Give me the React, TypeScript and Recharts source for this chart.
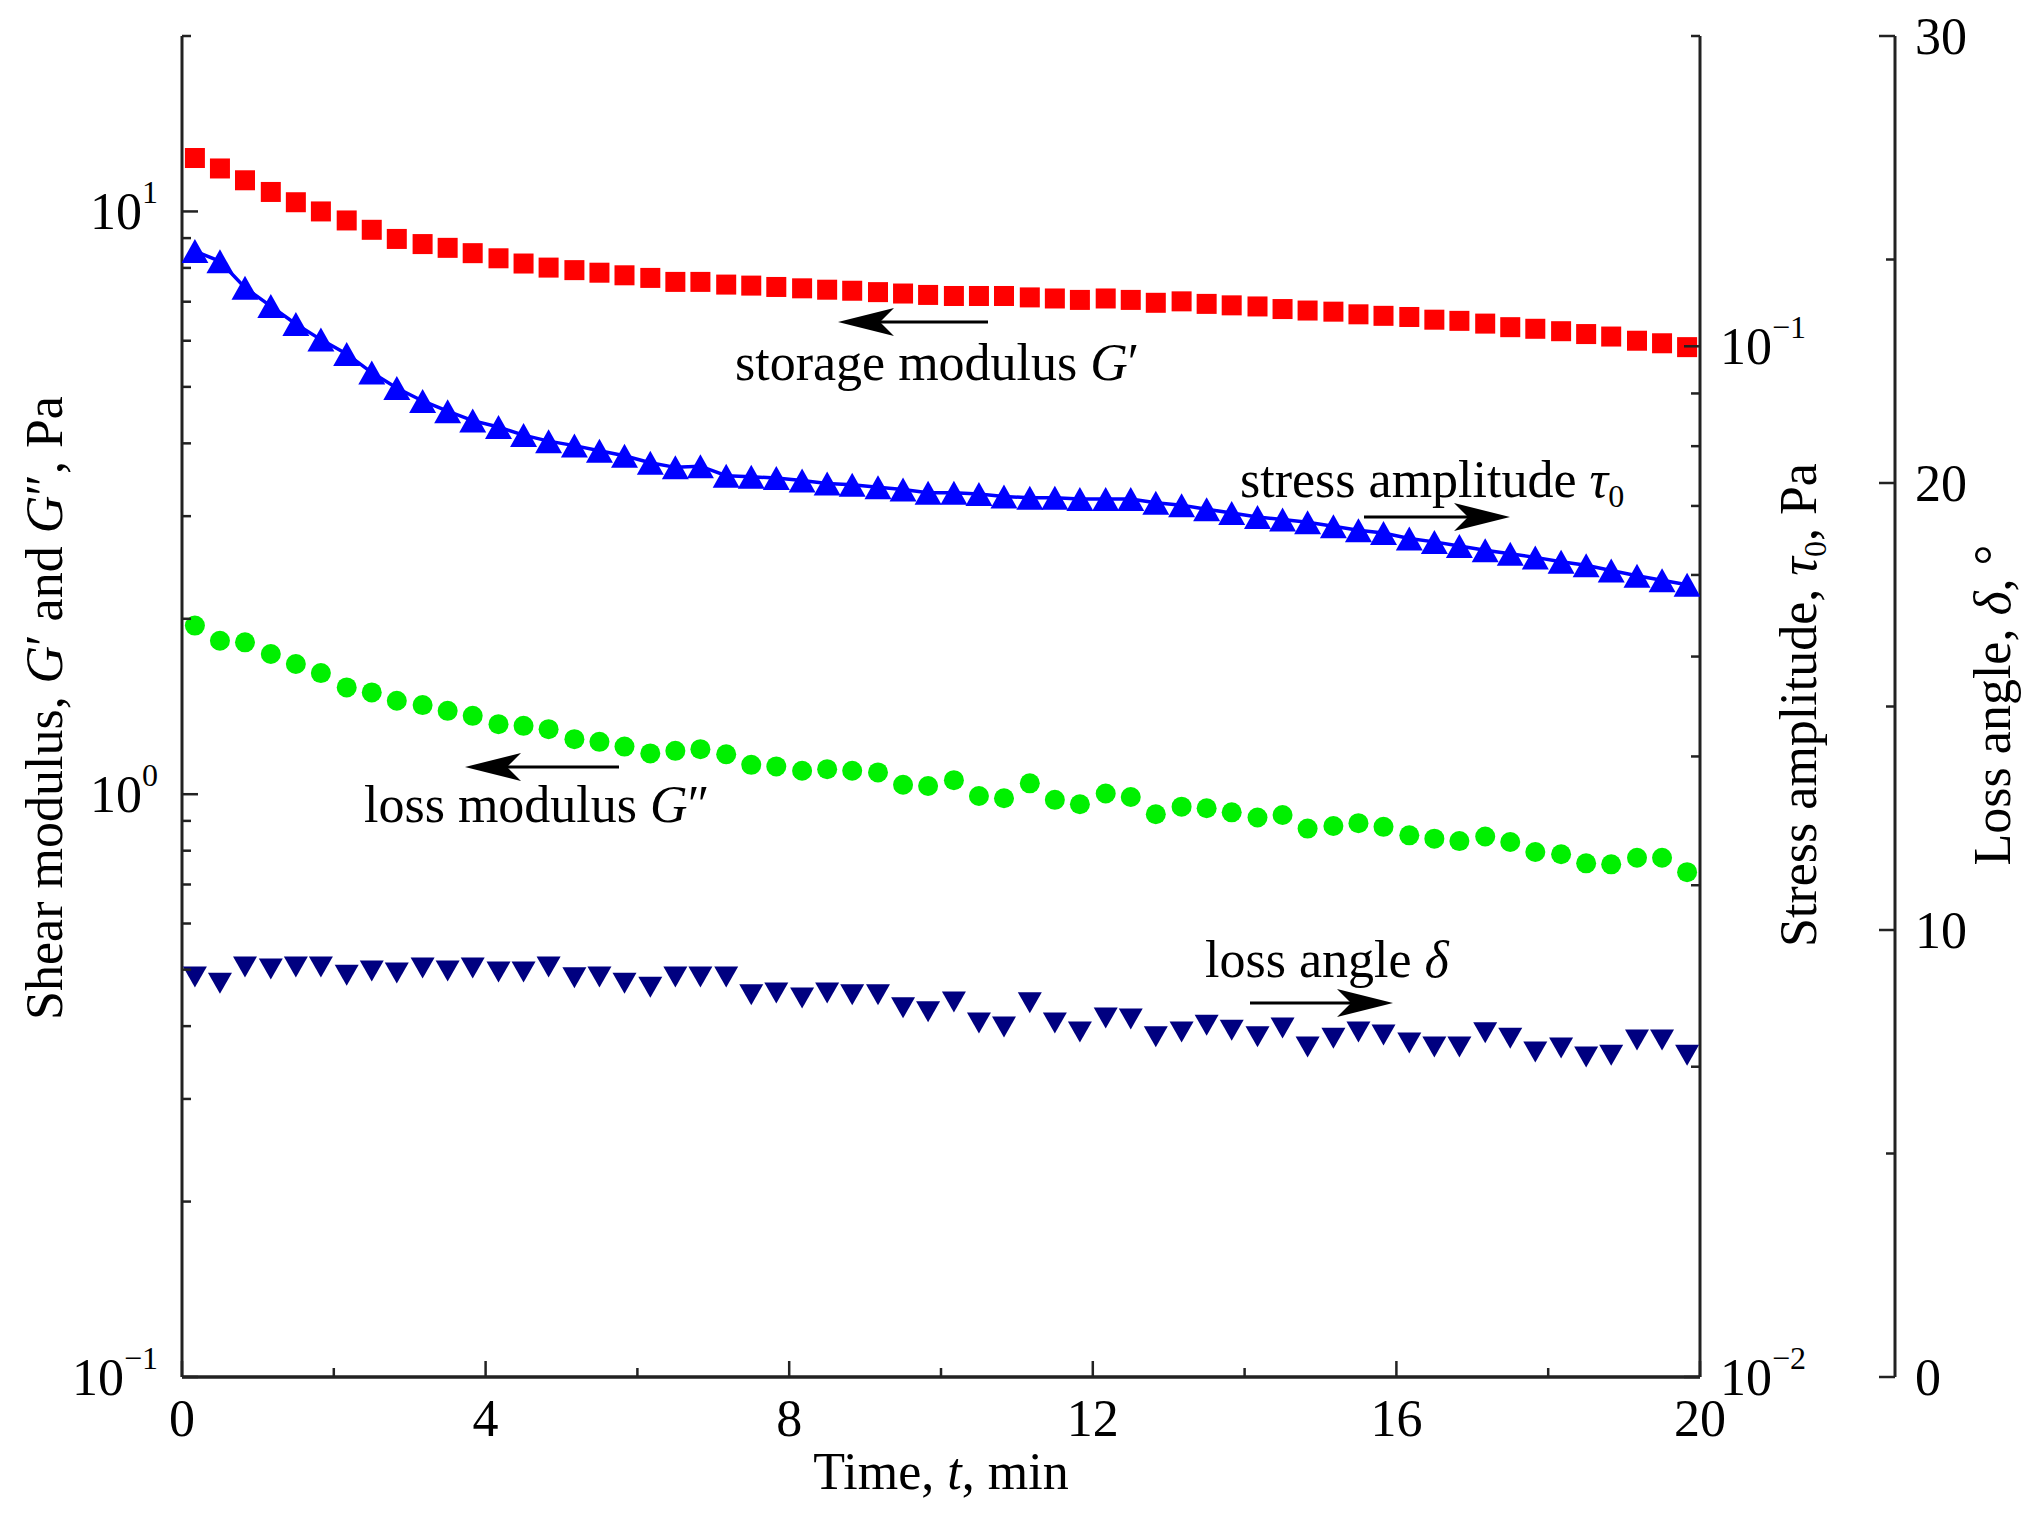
import { ComposedChart, Line, XAxis, YAxis } from 'recharts';

// time, min
const TIME = [
  0.17, 0.5, 0.83, 1.17, 1.5, 1.83, 2.17, 2.5, 2.83, 3.17,
  3.5, 3.83, 4.17, 4.5, 4.83, 5.17, 5.5, 5.83, 6.17, 6.5,
  6.83, 7.17, 7.5, 7.83, 8.17, 8.5, 8.83, 9.17, 9.5, 9.83,
  10.17, 10.5, 10.83, 11.17, 11.5, 11.83, 12.17, 12.5, 12.83, 13.17,
  13.5, 13.83, 14.17, 14.5, 14.83, 15.17, 15.5, 15.83, 16.17, 16.5,
  16.83, 17.17, 17.5, 17.83, 18.17, 18.5, 18.83, 19.17, 19.5, 19.83,
];

// storage modulus G', Pa
const STORAGE = [
  12.35, 11.85, 11.31, 10.8, 10.37, 10.0, 9.65, 9.3, 8.97, 8.79,
  8.66, 8.48, 8.31, 8.14, 8.01, 7.93, 7.85, 7.77, 7.69, 7.57,
  7.57, 7.49, 7.46, 7.42, 7.38, 7.34, 7.31, 7.27, 7.23, 7.19,
  7.16, 7.16, 7.16, 7.12, 7.09, 7.05, 7.09, 7.05, 6.97, 7.01,
  6.94, 6.9, 6.87, 6.8, 6.76, 6.73, 6.66, 6.62, 6.59, 6.52,
  6.49, 6.42, 6.33, 6.29, 6.23, 6.16, 6.1, 6.0, 5.94, 5.85,
];

// stress amplitude tau0, Pa
const STRESS = [
  0.1237, 0.1209, 0.114, 0.1094, 0.1051, 0.1015, 0.0983, 0.0943, 0.0911, 0.0885,
  0.0865, 0.0847, 0.0835, 0.082, 0.0809, 0.0801, 0.0792, 0.0783, 0.0771, 0.0763,
  0.0765, 0.0749, 0.0747, 0.0745, 0.0741, 0.0736, 0.0734, 0.073, 0.0726, 0.0721,
  0.0721, 0.0719, 0.0715, 0.0713, 0.0713, 0.0711, 0.0711, 0.0711, 0.0705, 0.0701,
  0.0695, 0.0689, 0.0683, 0.0679, 0.0675, 0.0669, 0.0663, 0.0659, 0.0651, 0.0646,
  0.064, 0.0634, 0.0629, 0.0624, 0.0618, 0.0613, 0.0606, 0.0599, 0.0593, 0.0587,
];

// loss modulus G'', Pa
const LOSS_MOD = [
  1.947, 1.834, 1.822, 1.74, 1.673, 1.614, 1.525, 1.495, 1.447, 1.422,
  1.39, 1.363, 1.319, 1.31, 1.293, 1.243, 1.23, 1.207, 1.175, 1.187,
  1.195, 1.171, 1.123, 1.116, 1.097, 1.104, 1.097, 1.09, 1.038, 1.033,
  1.057, 0.993, 0.984, 1.044, 0.978, 0.961, 1.003, 0.989, 0.924, 0.952,
  0.946, 0.931, 0.912, 0.921, 0.873, 0.882, 0.892, 0.879, 0.85, 0.839,
  0.831, 0.846, 0.828, 0.796, 0.789, 0.761, 0.758, 0.778, 0.778, 0.735,
];

// loss angle delta, degrees
const LOSS_ANGLE = [
  8.95, 8.81, 9.17, 9.13, 9.17, 9.17, 8.99, 9.08, 9.04, 9.15,
  9.08, 9.15, 9.06, 9.06, 9.17, 8.93, 8.95, 8.81, 8.72, 8.95,
  8.95, 8.95, 8.55, 8.59, 8.48, 8.59, 8.55, 8.55, 8.26, 8.17,
  8.39, 7.92, 7.83, 8.37, 7.92, 7.72, 8.03, 8.01, 7.61, 7.72,
  7.87, 7.76, 7.61, 7.81, 7.38, 7.58, 7.72, 7.65, 7.47, 7.38,
  7.38, 7.7, 7.58, 7.27, 7.36, 7.16, 7.2, 7.54, 7.54, 7.2,
];

const X_TICKS = [0, 2, 4, 6, 8, 10, 12, 14, 16, 18, 20];
const X_LABELS = [0, 4, 8, 12, 16, 20];
const G_TICKS = [0.1, 0.2, 0.3, 0.4, 0.5, 0.6, 0.7, 0.8, 0.9, 1, 2, 3, 4, 5, 6, 7, 8, 9, 10, 20];
const G_LABELS: Record<string, string> = { '0.1': '\u22121', '1': '0', '10': '1' };
const TAU_TICKS = [0.01, 0.02, 0.03, 0.04, 0.05, 0.06, 0.07, 0.08, 0.09, 0.1, 0.2];
const TAU_LABELS: Record<string, string> = { '0.01': '\u22122', '0.1': '\u22121' };
const DELTA_TICKS = [0, 5, 10, 15, 20, 25, 30];
const DELTA_LABELS = [0, 10, 20, 30];

const data = TIME.map((t, i) => ({
  t,
  gp: STORAGE[i],
  tau: STRESS[i],
  gpp: LOSS_MOD[i],
  delta: LOSS_ANGLE[i],
}));

const FONT = '"Liberation Serif", "Times New Roman", serif';
const FS = 52;
const SUP = 32;
const AXIS = '#222';
const MAJOR = 16;
const MINOR = 9;

function XTick(props: any) {
  const { x, y, payload } = props;
  const v = payload.value;
  const major = X_LABELS.includes(v);
  return (
    <g>
      <line x1={x} x2={x} y1={y} y2={y - (major ? MAJOR : MINOR)} stroke={AXIS} strokeWidth={2.5} />
      {major && (
        <text x={x} y={y + 59} textAnchor="middle" fontSize={FS} fontFamily={FONT} fill="#000">
          {v}
        </text>
      )}
    </g>
  );
}

function GTick(props: any) {
  const { x, y, payload } = props;
  const exp = G_LABELS[String(payload.value)];
  return (
    <g>
      <line x1={x} x2={x + (exp ? MAJOR : MINOR)} y1={y} y2={y} stroke={AXIS} strokeWidth={2.5} />
      {exp && (
        <text x={x - 24} y={y + 18} textAnchor="end" fontSize={FS} fontFamily={FONT} fill="#000">
          10<tspan dy={-26} fontSize={SUP}>{exp}</tspan>
        </text>
      )}
    </g>
  );
}

function TauTick(props: any) {
  const { x, y, payload } = props;
  const exp = TAU_LABELS[String(payload.value)];
  return (
    <g>
      <line x1={x} x2={x - (exp ? MAJOR : MINOR)} y1={y} y2={y} stroke={AXIS} strokeWidth={2.5} />
      {exp && (
        <text x={x + 20} y={y + 18} textAnchor="start" fontSize={FS} fontFamily={FONT} fill="#000">
          10<tspan dy={-26} fontSize={SUP}>{exp}</tspan>
        </text>
      )}
    </g>
  );
}

function DeltaTick(props: any) {
  const { x, y, payload } = props;
  const v = payload.value;
  const major = DELTA_LABELS.includes(v);
  return (
    <g>
      <line x1={x} x2={x - (major ? MAJOR : MINOR)} y1={y} y2={y} stroke={AXIS} strokeWidth={2.5} />
      {major && (
        <text x={x + 20} y={y + 18} textAnchor="start" fontSize={FS} fontFamily={FONT} fill="#000">
          {v}
        </text>
      )}
    </g>
  );
}

const squareDot = (props: any) => {
  const { cx, cy, index } = props;
  if (cx == null || cy == null) return <g key={`gp-${index}`} />;
  const s = 20;
  return <rect key={`gp-${index}`} x={cx - s / 2} y={cy - s / 2} width={s} height={s} fill="#ff0000" />;
};

const circleDot = (props: any) => {
  const { cx, cy, index } = props;
  if (cx == null || cy == null) return <g key={`gpp-${index}`} />;
  return <circle key={`gpp-${index}`} cx={cx} cy={cy} r={10} fill="#00f000" />;
};

const upDot = (props: any) => {
  const { cx, cy, index } = props;
  if (cx == null || cy == null) return <g key={`tau-${index}`} />;
  const w = 27;
  const h = 24;
  return (
    <polygon
      key={`tau-${index}`}
      points={`${cx},${cy - h / 2} ${cx - w / 2},${cy + h / 2} ${cx + w / 2},${cy + h / 2}`}
      fill="#0000ff"
    />
  );
};

const downDot = (props: any) => {
  const { cx, cy, index } = props;
  if (cx == null || cy == null) return <g key={`d-${index}`} />;
  const w = 24;
  const h = 21;
  return (
    <polygon
      key={`d-${index}`}
      points={`${cx - w / 2},${cy - h / 2} ${cx + w / 2},${cy - h / 2} ${cx},${cy + h / 2}`}
      fill="#000080"
    />
  );
};

// arrow with a barbed head pointing toward x2
function Arrow({ x1, x2, y }: { x1: number; x2: number; y: number }) {
  const dir = x2 > x1 ? 1 : -1;
  const L = 56;
  const N = 42;
  const H = 14;
  const head = `M ${x2} ${y} L ${x2 - dir * L} ${y - H} L ${x2 - dir * N} ${y} L ${x2 - dir * L} ${y + H} Z`;
  return (
    <g>
      <line x1={x1} x2={x2 - dir * N} y1={y} y2={y} stroke="#000" strokeWidth={3} />
      <path d={head} fill="#000" />
    </g>
  );
}

function Overlay() {
  const txt = { fontFamily: FONT, fontSize: FS, fill: '#000' } as const;
  return (
    <svg
      width={2044}
      height={1513}
      style={{ position: 'absolute', left: 0, top: 0, pointerEvents: 'none' }}
    >
      {/* axis titles */}
      <text {...txt} x={941} y={1489} textAnchor="middle">
        Time, <tspan fontStyle="italic">t</tspan>, min
      </text>
      <text {...txt} transform="translate(62,708) rotate(-90)" textAnchor="middle">
        Shear modulus, <tspan fontStyle="italic">G</tspan>{'\u2032'} and <tspan fontStyle="italic">G</tspan>
        {'\u2033'}, Pa
      </text>
      <text {...txt} transform="translate(1816,705) rotate(-90)" textAnchor="middle">
        Stress amplitude, <tspan fontStyle="italic">{'\u03c4'}</tspan>
        <tspan fontSize={SUP} dy={10}>0</tspan>
        <tspan dy={-10}>, Pa</tspan>
      </text>
      <text {...txt} transform="translate(2010,705) rotate(-90)" textAnchor="middle">
        Loss angle, <tspan fontStyle="italic">{'\u03b4'}</tspan>, {'\u00b0'}
      </text>

      {/* series annotations */}
      <text {...txt} x={735} y={380}>
        storage modulus <tspan fontStyle="italic">G</tspan>{'\u2032'}
      </text>
      <Arrow x1={988} x2={838} y={322} />

      <text {...txt} x={1240} y={497}>
        stress amplitude <tspan fontStyle="italic">{'\u03c4'}</tspan>
        <tspan fontSize={SUP} dy={10}>0</tspan>
      </text>
      <Arrow x1={1364} x2={1510} y={517} />

      <text {...txt} x={364} y={822}>
        loss modulus <tspan fontStyle="italic">G</tspan>{'\u2033'}
      </text>
      <Arrow x1={619} x2={465} y={767} />

      <text {...txt} x={1205} y={977}>
        loss angle <tspan fontStyle="italic">{'\u03b4'}</tspan>
      </text>
      <Arrow x1={1250} x2={1393} y={1003} />
    </svg>
  );
}

export default function App() {
  return (
    <div style={{ position: 'absolute', left: 0, top: 0, width: 2044, height: 1513, background: '#fff' }}>
      <ComposedChart width={2044} height={1513} data={data} margin={{ top: 36, right: 0, bottom: 0, left: 0 }}>
        <XAxis
          dataKey="t"
          type="number"
          domain={[0, 20]}
          ticks={X_TICKS}
          interval={0}
          height={136}
          tickSize={0}
          tickMargin={0}
          tickLine={false}
          axisLine={{ stroke: AXIS, strokeWidth: 3.5 }}
          tick={<XTick />}
          allowDataOverflow
        />
        <XAxis
          xAxisId="top"
          dataKey="t"
          type="number"
          domain={[0, 20]}
          orientation="top"
          height={0}
          tick={false}
          tickLine={false}
          axisLine={{ stroke: AXIS, strokeWidth: 3 }}
          allowDataOverflow
        />
        <YAxis
          yAxisId="g"
          orientation="left"
          scale="log"
          type="number"
          domain={[0.1, 20]}
          ticks={G_TICKS}
          interval={0}
          width={182}
          tickSize={0}
          tickMargin={0}
          tickLine={false}
          axisLine={{ stroke: AXIS, strokeWidth: 3 }}
          tick={<GTick />}
          allowDataOverflow
        />
        {/* inner right axis: stress amplitude */}
        <YAxis
          yAxisId="r1"
          orientation="right"
          scale="log"
          type="number"
          domain={[0.01, 0.2]}
          ticks={TAU_TICKS}
          interval={0}
          width={195}
          tickSize={0}
          tickMargin={0}
          tickLine={false}
          axisLine={{ stroke: AXIS, strokeWidth: 3 }}
          tick={<TauTick />}
          allowDataOverflow
        />
        {/* outer right axis: loss angle */}
        <YAxis
          yAxisId="r2"
          orientation="right"
          type="number"
          domain={[0, 30]}
          ticks={DELTA_TICKS}
          interval={0}
          width={149}
          tickSize={0}
          tickMargin={0}
          tickLine={false}
          axisLine={{ stroke: AXIS, strokeWidth: 3 }}
          tick={<DeltaTick />}
          allowDataOverflow
        />
        <Line
          yAxisId="g"
          dataKey="gp"
          stroke="none"
          dot={squareDot}
          activeDot={false}
          isAnimationActive={false}
        />
        <Line
          yAxisId="r1"
          dataKey="tau"
          stroke="#0000ff"
          strokeWidth={3.5}
          type="linear"
          dot={upDot}
          activeDot={false}
          isAnimationActive={false}
        />
        <Line
          yAxisId="g"
          dataKey="gpp"
          stroke="none"
          dot={circleDot}
          activeDot={false}
          isAnimationActive={false}
        />
        <Line
          yAxisId="r2"
          dataKey="delta"
          stroke="none"
          dot={downDot}
          activeDot={false}
          isAnimationActive={false}
        />
      </ComposedChart>
      <Overlay />
    </div>
  );
}
